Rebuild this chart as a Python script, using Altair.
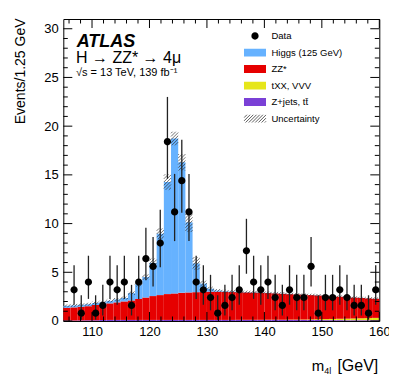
import math
import altair as alt
import pandas as pd

# ---------------- data ----------------
X_MIN, X_MAX, Y_MAX, BIN_W = 105.0, 160.0, 31.0, 1.25
N_BINS = 44
bin_low = [X_MIN + BIN_W * i for i in range(N_BINS)]

data_val = [None, 3.2, 0.8, 4.0, 0.8, 1.6, 4.0, 3.2, 4.0, 1.6, 4.0, 6.4, 5.6, 8.0,
            18.4, 11.2, 14.4, 11.2, 4.0, 3.2, 2.4, 0.8, 1.6, 2.4, 3.2, 7.2, 4.0, 3.2,
            4.0, 2.4, 1.6, 3.2, 2.4, 2.4, 5.6, 0.8, 2.4, 2.4, 3.2, 2.4, 1.6, 1.6, 0.8, 3.2]
# error bar ends read per value level
err_levels = {0.8: (0.14, 2.64), 1.6: (0.57, 3.71), 2.4: (1.10, 4.74), 3.2: (1.67, 5.73),
              4.0: (2.27, 6.70), 5.6: (3.54, 8.62), 6.4: (4.18, 9.56), 7.2: (4.85, 10.49),
              8.0: (5.51, 11.42), 11.2: (8.2, 15.1), 14.4: (11.1, 18.6), 18.4: (14.6, 23.0)}

zjets = [0.05, 0.05, 0.06, 0.07, 0.08, 0.09, 0.10, 0.10, 0.10, 0.10, 0.10, 0.10, 0.10, 0.10,
         0.10, 0.10, 0.10, 0.10, 0.10, 0.10, 0.10, 0.10, 0.10, 0.10, 0.10, 0.10, 0.10, 0.10,
         0.10, 0.10, 0.10, 0.10, 0.10, 0.10, 0.10, 0.10, 0.09, 0.09, 0.09, 0.08, 0.08, 0.08, 0.08, 0.08]
txx = [0.00, 0.00, 0.00, 0.00, 0.00, 0.00, 0.01, 0.01, 0.01, 0.01, 0.01, 0.01, 0.01, 0.01,
       0.01, 0.01, 0.01, 0.01, 0.01, 0.01, 0.01, 0.01, 0.01, 0.01, 0.02, 0.02, 0.02, 0.02,
       0.03, 0.03, 0.03, 0.04, 0.04, 0.05, 0.06, 0.08, 0.10, 0.12, 0.14, 0.16, 0.18, 0.20, 0.22, 0.24]
zz = [1.30, 1.35, 1.40, 1.45, 1.55, 1.62, 1.70, 1.80, 1.90, 2.00, 2.15, 2.30, 2.45, 2.55,
      2.65, 2.72, 2.78, 2.82, 2.85, 2.88, 2.90, 2.90, 2.88, 2.86, 2.84, 2.82, 2.80, 2.77,
      2.74, 2.70, 2.66, 2.62, 2.58, 2.54, 2.50, 2.45, 2.38, 2.32, 2.26, 2.20, 2.14, 2.08, 2.02, 1.96]
higgs = [0.20, 0.20, 0.20, 0.20, 0.22, 0.22, 0.25, 0.30, 0.35, 0.75, 1.50, 2.10, 3.40, 6.30,
         11.50, 15.90, 13.40, 7.20, 2.95, 0.85, 0.30, 0.12, 0.06, 0.04, 0.03, 0.03, 0.03, 0.02,
         0.02, 0.02, 0.02, 0.02, 0.01, 0.01, 0.01, 0.01, 0.01, 0.01, 0.01, 0.01, 0.01, 0.01, 0.01, 0.01]
unc = [0.15, 0.15, 0.15, 0.15, 0.15, 0.15, 0.15, 0.15, 0.15, 0.18, 0.22, 0.28, 0.45, 0.55,
       0.80, 0.70, 0.85, 1.00, 0.65, 0.30, 0.20, 0.15, 0.15, 0.15, 0.15, 0.15, 0.15, 0.15,
       0.14, 0.14, 0.14, 0.14, 0.13, 0.13, 0.13, 0.13, 0.12, 0.12, 0.12, 0.12, 0.12, 0.12, 0.12, 0.12]

entries = ["Data", "Higgs (125 GeV)", "ZZ*", "tXX, VVV", "Z+jets, tt\u0304", "Uncertainty"]
fills = ["black", "#66b2ff", "#e60000", "#e6e61a", "#7a40d6", "transparent"]
strokes = ["transparent", "transparent", "transparent", "transparent", "transparent", "#333333"]

x_labels = [110, 120, 130, 140, 150, 160]
y_labels = [0, 5, 10, 15, 20, 25, 30]
txt_atlas = ["ATLAS"]
txt_proc = ["H \u2192 ZZ* \u2192 4\u03bc"]
txt_lumi = ["\u221as = 13 TeV, 139 fb\u207b\u00b9"]
txt_xt = ["m", "4l", "[GeV]"]
y_title = "Events/1.25 GeV"

# ---------------- layout ----------------
W, H = 316, 302
sx = W / (X_MAX - X_MIN)
sy = H / Y_MAX
FONT = "Liberation Sans"

xs = alt.Scale(domain=[X_MIN, X_MAX], nice=False, zero=False)
ys = alt.Scale(domain=[0, Y_MAX], nice=False, zero=False)

# stacked histogram rectangles
rows = []
comps = [(entries[4], zjets), (entries[3], txx), (entries[2], zz), (entries[1], higgs)]
for i in range(N_BINS):
    base = 0.0
    for name, arr in comps:
        rows.append(dict(x0=bin_low[i], x1=bin_low[i] + BIN_W, y0=base, y1=base + arr[i], entry=name))
        base += arr[i]
df_stack = pd.DataFrame(rows)

# data points
drows = []
for i in range(N_BINS):
    v = data_val[i]
    if v is None:
        continue
    lo, hi = err_levels[v]
    drows.append(dict(xc=bin_low[i] + BIN_W / 2, v=v, lo=lo, hi=hi, entry="Data"))
df_data = pd.DataFrame(drows)

# hatched uncertainty band as clipped 45-degree segments
S = 3.2
segs = []
for i in range(N_BINS):
    tot = zjets[i] + txx[i] + zz[i] + higgs[i]
    u0 = (bin_low[i] - X_MIN) * sx
    u1 = (bin_low[i] + BIN_W - X_MIN) * sx
    w0 = (tot - unc[i]) * sy
    w1 = (tot + unc[i]) * sy
    for k in range(math.ceil((w0 - u1) / S), math.floor((w1 - u0) / S) + 1):
        c = k * S
        ua = max(u0, w0 - c)
        ub = min(u1, w1 - c)
        if ub > ua + 0.05:
            segs.append(dict(x=X_MIN + ua / sx, x2=X_MIN + ub / sx, y=(ua + c) / sy, y2=(ub + c) / sy))
df_h = pd.DataFrame(segs)

# inward ticks on all four sides
MAJ, MIN = 9.0, 4.5
trows = []
for t in range(106, 161, 2):
    L = MAJ if t % 10 == 0 else MIN
    trows.append(dict(x=t, x2=t, y=0, y2=L / sy))
    trows.append(dict(x=t, x2=t, y=Y_MAX, y2=Y_MAX - L / sy))
for t in range(0, 31):
    L = MAJ if t % 5 == 0 else MIN
    trows.append(dict(x=X_MIN, x2=X_MIN + L / sx, y=t, y2=t))
    trows.append(dict(x=X_MAX, x2=X_MAX - L / sx, y=t, y2=t))
df_t = pd.DataFrame(trows)

# legend symbols (custom paths, unit = 11 px)
hh = 4.0 / 11
circle_p = "M0.33,0A0.33,0.33,0,1,1,-0.33,0A0.33,0.33,0,1,1,0.33,0Z"
rect_p = f"M-1,-{hh:.4f}H1V{hh:.4f}H-1Z"
parts = []
a = -1 - 2 * hh
step = 3.2 / 11
while a < 1:
    x0, y0, x1, y1 = a, hh, a + 2 * hh, -hh
    if x0 < -1:
        y0 = hh - (-1 - a)
        x0 = -1
    if x1 > 1:
        y1 = hh - (1 - a)
        x1 = 1
    if x1 > x0:
        parts.append(f"M{x0:.3f},{y0:.3f}L{x1:.3f},{y1:.3f}")
    a += step
hatch_p = "".join(parts)
shapes = [circle_p, rect_p, rect_p, rect_p, rect_p, hatch_p]

fill_scale = alt.Scale(domain=entries, range=fills)
stroke_scale = alt.Scale(domain=entries, range=strokes)
shape_scale = alt.Scale(domain=entries, range=shapes)
leg = alt.Legend(title=None, orient="none", legendX=180.2, legendY=13, symbolSize=484,
                 clipHeight=8, rowPadding=6.5, labelFontSize=9.5, labelFont=FONT,
                 labelColor="black", labelOffset=5, symbolStrokeWidth=0.8, padding=0,
                 offset=0, labelLimit=200, symbolOpacity=1)

xaxis = alt.Axis(values=x_labels, title=None, ticks=False, tickSize=0, domain=False, grid=False,
                 labelFontSize=13, labelPadding=5, labelFont=FONT, labelColor="black",
                 format="d", labelFlush=False)
yaxis = alt.Axis(values=y_labels, title=y_title, ticks=False, tickSize=0, domain=False, grid=False,
                 labelFontSize=13, labelPadding=5, labelFont=FONT, labelColor="black",
                 format="d", titleFont=FONT, titleFontSize=14, titleFontWeight="normal",
                 titleColor="black", titleAngle=-90, titleAlign="right", titleBaseline="alphabetic",
                 titleX=-38.5, titleY=-1)

bars = alt.Chart(df_stack).mark_rect(strokeWidth=0).encode(
    x=alt.X("x0:Q", scale=xs, axis=xaxis), x2="x1:Q",
    y=alt.Y("y0:Q", scale=ys, axis=yaxis), y2="y1:Q",
    fill=alt.Fill("entry:N", scale=fill_scale, legend=leg),
)

hatch = alt.Chart(df_h).mark_rule(color="#333333", strokeWidth=0.7).encode(
    x=alt.X("x:Q", scale=xs), x2="x2:Q", y=alt.Y("y:Q", scale=ys), y2="y2:Q")

errs = alt.Chart(df_data).mark_rule(color="#222222", strokeWidth=1.3).encode(
    x=alt.X("xc:Q", scale=xs), y=alt.Y("lo:Q", scale=ys), y2="hi:Q")

points = alt.Chart(df_data).mark_point(filled=True, size=484, opacity=1, strokeWidth=0.8).encode(
    x=alt.X("xc:Q", scale=xs), y=alt.Y("v:Q", scale=ys),
    shape=alt.Shape("entry:N", scale=shape_scale, legend=leg),
    fill=alt.Fill("entry:N", scale=fill_scale, legend=leg),
    stroke=alt.Stroke("entry:N", scale=stroke_scale, legend=leg),
)

ticks = alt.Chart(df_t).mark_rule(color="black", strokeWidth=1).encode(
    x=alt.X("x:Q", scale=xs), x2="x2:Q", y=alt.Y("y:Q", scale=ys), y2="y2:Q")

one = pd.DataFrame({"k": [0]})
t_atlas = alt.Chart(one).mark_text(text=txt_atlas[0], font=FONT, fontSize=18, fontWeight="bold",
                                   fontStyle="italic", align="left", baseline="alphabetic",
                                   color="black").encode(x=alt.value(13.4), y=alt.value(27.7))
t_proc = alt.Chart(one).mark_text(text=txt_proc[0], font=FONT, fontSize=16, align="left",
                                  baseline="alphabetic", color="black").encode(
    x=alt.value(12.7), y=alt.value(43.7))
t_lumi = alt.Chart(one).mark_text(text=txt_lumi[0], font=FONT, fontSize=11, align="left",
                                  baseline="alphabetic", color="black").encode(
    x=alt.value(12.7), y=alt.value(57))
t_m = alt.Chart(one).mark_text(text=txt_xt[0], font=FONT, fontSize=15, align="left",
                               baseline="alphabetic", color="black").encode(
    x=alt.value(248.4), y=alt.value(352.5))
t_sub = alt.Chart(one).mark_text(text=txt_xt[1], font=FONT, fontSize=9, align="left",
                                 baseline="alphabetic", color="black").encode(
    x=alt.value(261), y=alt.value(355.5))
t_gev = alt.Chart(one).mark_text(text=txt_xt[2], font=FONT, fontSize=16, align="right",
                                 baseline="alphabetic", color="black").encode(
    x=alt.value(315), y=alt.value(352.5))

chart = alt.layer(bars, hatch, errs, points, ticks, t_atlas, t_proc, t_lumi, t_m, t_sub, t_gev).properties(
    width=W, height=H,
    autosize=alt.AutoSizeParams(type="none"),
    padding={"left": 55.3, "top": 11, "right": 10, "bottom": 54},
    background="white",
).configure_view(stroke="black", strokeWidth=1)

chart.save("out.html", embed_options={"renderer": "svg", "actions": False})
